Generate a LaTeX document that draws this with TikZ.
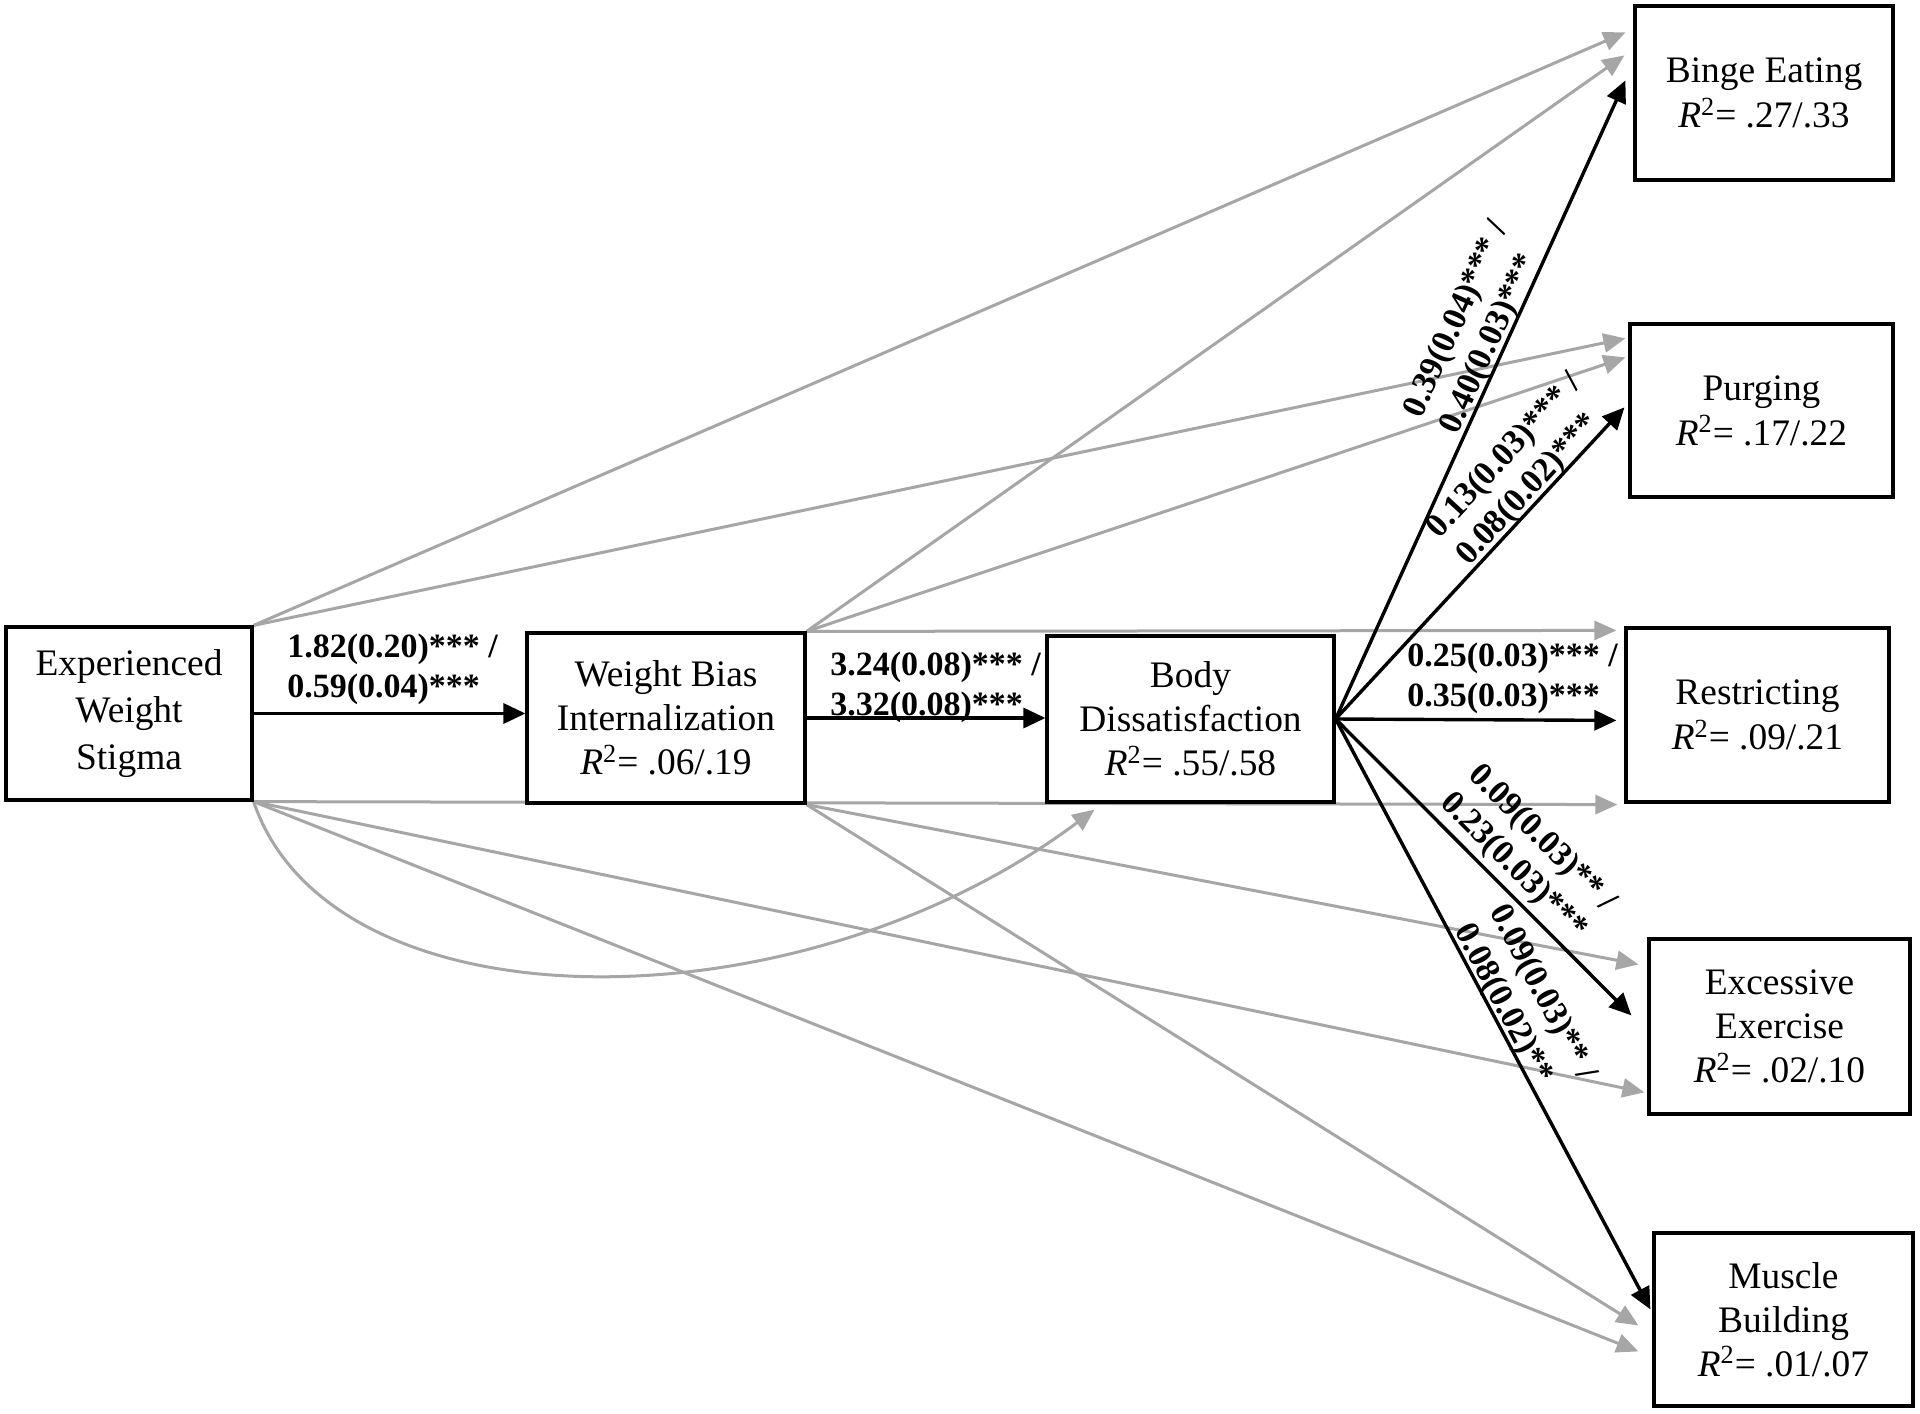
\documentclass[tikz,border=0pt]{standalone}
\usepackage{fontspec}
\setmainfont{Liberation Serif}
\usetikzlibrary{arrows.meta,calc}
\pgfdeclarelayer{bg}
\pgfsetlayers{bg,main}
\definecolor{greyline}{RGB}{166,166,166}
\newcommand{\Rsq}[1]{\textit{R}\textsuperscript{2}= #1}
\begin{document}
\begin{tikzpicture}[x=0.5pt,y=-0.5pt,
  box/.style={draw=black, line width=1.6pt, fill=white, align=center, inner sep=0pt,
              font=\fontsize{18.7pt}{22pt}\selectfont},
  blk/.style={draw=black, line width=1.7pt, -{Triangle[length=11pt,width=10pt]}},
  gry/.style={draw=greyline, line width=1.5pt, -{Triangle[length=11pt,width=9.5pt]}},
  lbl/.style={font=\fontsize{17pt}{20pt}\selectfont\bfseries, align=left, inner sep=0pt}]

\useasboundingbox (0,0) rectangle (1920,1413);

% boxes
\node[box, font=\fontsize{18.7pt}{23.3pt}\selectfont, minimum width=123pt, minimum height=86.5pt] (EWS) at (129,713.5) {Experienced\\Weight\\Stigma};
\node[box, minimum width=139pt, minimum height=85pt] (WBI) at (666,718) {Weight Bias\\Internalization\\\Rsq{.06/.19}};
\node[box, minimum width=143.5pt, minimum height=83pt] (BD) at (1190.5,719) {Body\\Dissatisfaction\\\Rsq{.55/.58}};
\node[box, minimum width=129pt, minimum height=87pt] (BE) at (1764,93) {Binge Eating\\[0.5pt]\Rsq{.27/.33}};
\node[box, minimum width=131.5pt, minimum height=86.5pt] (PU) at (1761.5,410.5) {Purging\\[0.5pt]\Rsq{.17/.22}};
\node[box, minimum width=131.5pt, minimum height=87pt] (RE) at (1757.5,715) {Restricting\\[0.5pt]\Rsq{.09/.21}};
\node[box, minimum width=130.5pt, minimum height=87.5pt] (EX) at (1779.5,1026.5) {Excessive\\Exercise\\\Rsq{.02/.10}};
\node[box, minimum width=129.5pt, minimum height=86.5pt] (MB) at (1783.5,1319.5) {Muscle\\Building\\\Rsq{.01/.07}};

% grey (non-significant) paths
\begin{pgfonlayer}{bg}
\fill[white] (0,0) rectangle (1920,1413);
\draw[gry] (EWS.north east) -- ($(BE.north west)+(-8,28)$);
\draw[gry] (EWS.north east) -- ($(PU.north west)+(-3,16)$);
\draw[gry] (WBI.north east) -- ($(BE.north west)+(-9,51)$);
\draw[gry] (WBI.north east) -- ($(PU.north west)+(-3,35)$);
\draw[gry] (WBI.north east) -- ($(RE.north west)+(-8,4)$);
\draw[gry] (EWS.south east) -- ($(RE.south west)+(-7,1)$);
\draw[gry] (EWS.south east) .. controls +(78,230) and +(-296,222) .. ($(BD.south west)+(49,6)$);
\draw[gry] (EWS.south east) -- ($(EX.north west)+(-3,155)$);
\draw[gry] (EWS.south east) -- ($(MB.north west)+(-14,120)$);
\draw[gry] (WBI.south east) -- ($(EX.north west)+(-9,27)$);
\draw[gry] (WBI.south east) -- ($(MB.north west)+(-14,94)$);
\end{pgfonlayer}

% black (significant) paths
\draw[blk] (EWS.east) -- node[lbl, above right, pos=0, xshift=16pt, yshift=3.5pt]{1.82(0.20)*** /\\0.59(0.04)***} (EWS.east -| WBI.west);
\draw[blk] (WBI.east) -- node[lbl, above right, pos=0, xshift=11pt, yshift=-3pt]{3.24(0.08)*** /\\3.32(0.08)***} (WBI.east -| BD.west);
\draw[blk] (BD.east) -- node[lbl, above right, pos=0, xshift=35pt, yshift=2pt]{0.25(0.03)*** /\\0.35(0.03)***} ($(RE.north west)+(-8,94)$);
\draw[blk] (BD.east) -- node[lbl, sloped, above=-1.5pt, pos=0.59]{0.39(0.04)*** /\\0.40(0.03)***} ($(BE.north west)+(-8,76)$);
\draw[blk] (BD.east) -- node[lbl, sloped, above=-1.5pt, pos=0.725]{0.13(0.03)*** /\\0.08(0.02)***} ($(PU.north west)+(-4,85)$);
\draw[blk] (BD.east) -- node[lbl, sloped, above=2pt, pos=0.55]{0.09(0.03)** /\\0.23(0.03)***} ($(EX.north west)+(-16,78)$);
\draw[blk] (BD.east) -- node[lbl, sloped, above=-2pt, pos=0.507]{0.09(0.03)** /\\0.08(0.02)**} ($(MB.north west)+(-2,78)$);
\end{tikzpicture}
\end{document}
